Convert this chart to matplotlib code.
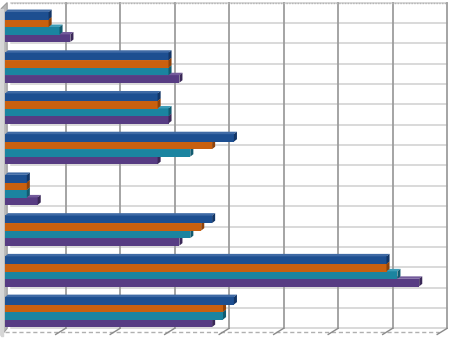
import matplotlib.pyplot as plt
import numpy as np
from matplotlib.patches import Polygon
from matplotlib.transforms import ScaledTranslation

# values per group, listed top to bottom
blue = [4, 15, 14, 21, 2, 19, 35, 21]
orange = [4, 15, 14, 19, 2, 18, 35, 20]
teal = [5, 15, 15, 17, 2, 17, 36, 20]
purple = [6, 16, 15, 14, 3, 16, 38, 19]

series = [blue, orange, teal, purple]
colors = ['#1d4f91', '#c9600f', '#1b84a0', '#573c83']
caps = ['#123566', '#8e420a', '#115b70', '#3a2858']
tops = ['#3f6aa5', '#d9803c', '#3d9db8', '#735b9b']

n = len(blue)
xmax = 40

fig = plt.figure(figsize=(4.51, 3.39), dpi=100)
ax = fig.add_axes([5 / 451, 1 - 332.4 / 339, 436 / 451, 325.8 / 339])
ax.set_xlim(0, xmax)
ax.set_ylim(n - 0.5, -0.5)
ax.axis('off')

# back wall sits a few pixels right and up of the front plane
back = ax.transData + ScaledTranslation(0.06, 0.04, fig.dpi_scale_trans)

# back wall grid
for k in np.arange(0, n + 0.01, 0.5):
    ax.plot([0, xmax], [k - 0.5, k - 0.5], color='#cfcfcf', lw=1.1, transform=back,
            zorder=1, clip_on=False)
for x in range(5, xmax + 1, 5):
    ax.plot([x, x], [-0.5, n - 0.5], color='#9d9d9d', lw=1.3, transform=back,
            zorder=1, clip_on=False)
ax.plot([0, xmax], [-0.5, -0.5], color='#b5b5b5', lw=1, ls=(0, (1, 1)), transform=back,
        zorder=1, clip_on=False)

# floor: front edge and ticks running to the back
dx = 6 / (436 / xmax)
dy = 4 / 40.7
ax.plot([0, xmax - 0.2], [n - 0.5, n - 0.5], color='#b0b0b0', lw=1, ls=(0, (3, 2)),
        zorder=1, clip_on=False)
for x in range(5, xmax + 1, 5):
    ax.plot([x - 0.35, x + dx], [n - 0.5 + 0.05, n - 0.5 - dy], color='#8a8a8a', lw=1,
            zorder=1, clip_on=False)

# left wall
wall = Polygon([[-0.35, -0.45], [0.2, -0.5 - dy], [0.2, n - 0.5 - dy], [-0.35, n - 0.42]],
               closed=True, facecolor='#b8b8b8', edgecolor='#9a9a9a', lw=0.8, zorder=2, clip_on=False)
ax.add_patch(wall)
ax.fill_betweenx([-0.45, n - 0.42], -0.35, -0.15, color='#d6d6d6', zorder=2, clip_on=False)

# bars with a shallow 3D cap
h = 0.184
offs = [-0.276, -0.092, 0.092, 0.276]
cdx = 0.28
cdy = 0.06
y = np.arange(n)
for s in range(3, -1, -1):
    vals = series[s]
    ys = y + offs[s]
    ax.barh(ys, vals, height=h + 0.01, color=colors[s], zorder=3, lw=0)
    for yy, v in zip(ys, vals):
        top = yy - h / 2
        bot = yy + h / 2
        ax.add_patch(Polygon([[0, top], [v, top], [v + cdx, top - cdy], [cdx, top - cdy]],
                             closed=True, facecolor=tops[s], edgecolor='none', zorder=3))
        ax.add_patch(Polygon([[v, top], [v + cdx, top - cdy], [v + cdx, bot - cdy], [v, bot]],
                             closed=True, facecolor=caps[s], edgecolor='none', zorder=3))

fig.savefig('out.png', dpi=100)
